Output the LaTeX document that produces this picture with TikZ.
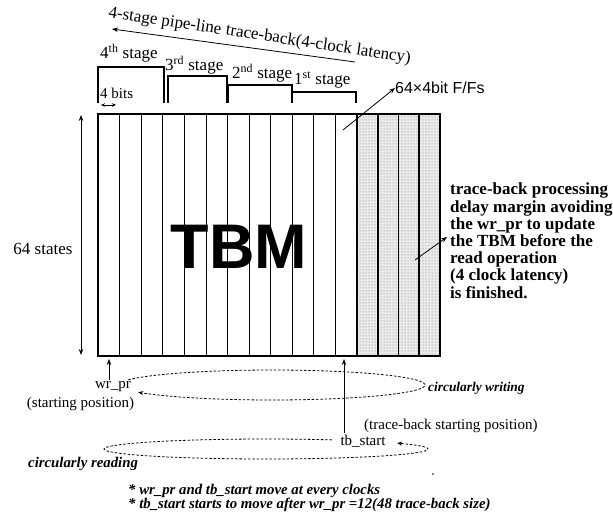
\documentclass[tikz,border=0pt]{standalone}
\usepackage{fontspec}
\setmainfont{Liberation Serif}
\newfontfamily\arialfont{Liberation Sans}
\usetikzlibrary{arrows.meta,patterns}

\begin{document}
\begin{tikzpicture}[x=1pt,y=-1pt,
  txt/.style={inner sep=0pt, font=\fontsize{17}{20}\selectfont},
  small/.style={inner sep=0pt, font=\fontsize{15}{18}\selectfont},
  note/.style={inner sep=0pt, font=\fontsize{14.8}{17}\selectfont\bfseries\itshape},
  bracket/.style={line width=1.2pt},
  thincol/.style={line width=0.8pt},
  shadecol/.style={line width=1.6pt},
  arr/.style={line width=0.8pt,-{Stealth[length=6pt,width=4.5pt]}},
  circ/.style={line width=0.8pt,dash pattern=on 2.5pt off 1.8pt},
]
\useasboundingbox (0,0) rectangle (613,516);

% ---- memory array: 12 plain columns + 4 shaded margin columns
\coordinate (tl) at (98,114);
\coordinate (br) at (440,356);
\coordinate (sh) at (357,114);
\fill[black!8] (sh) rectangle (br);
\fill[pattern=dots, pattern color=black!55] (sh) rectangle (br);
\foreach \i in {1,...,11}
  \draw[thincol] ({98+\i*21.583},114) -- ({98+\i*21.583},356);
\foreach \i in {0,...,3}
  \draw[shadecol] ({357+\i*20.75},114) -- ({357+\i*20.75},356);
\draw[line width=2.7pt] (tl) rectangle (br);

\node[inner sep=0pt, font=\arialfont\bfseries\fontsize{63}{63}\selectfont] (tbm) at (239,247) {TBM};

% ---- pipeline stage brackets
\draw[bracket] (98,103) -- (98,67) -- (164,67) -- (164,103);
\draw[bracket] (168,103) -- (168,76) -- (227,76) -- (227,103);
\draw[bracket] (228,103) -- (228,85) -- (292,85) -- (292,103);
\draw[bracket] (292,103) -- (292,92) -- (356,92) -- (356,103);
\node[txt, anchor=west] (s4) at (100,53) {4\textsuperscript{th} stage};
\node[txt, anchor=west] (s3) at (165,65) {3\textsuperscript{rd} stage};
\node[txt, anchor=west] (s2) at (232,73) {2\textsuperscript{nd} stage};
\node[txt, anchor=west] (s1) at (294,80) {1\textsuperscript{st} stage};
\node[small, anchor=west] (bits) at (100,93) {4 bits};
\coordinate (b1) at (101,105);
\coordinate (b2) at (116,105);
\draw[line width=0.8pt,{Stealth[length=4pt,width=3.5pt]}-{Stealth[length=4pt,width=3.5pt]}] (b1) -- (b2);

% ---- pipeline title (set on one slanted baseline) and its direction arrow
\begin{scope}[shift={(108,17.2)}, rotate=-8.6]
  \node[txt, transform shape, anchor=base west] (t1) at (0,0) {4-stage pipe-line};
  \node[txt, transform shape, anchor=base west] (t2) at (t1.base east) {\ trace-back(4-clock};
  \node[txt, transform shape, anchor=base west] (t3) at (t2.base east) {\ latency)};
\end{scope}
\coordinate (ta1) at (355,62);
\coordinate (ta2) at (112,29);
\draw[arr] (ta1) -- (ta2);

% ---- flip-flop label
\node[inner sep=0pt, anchor=west, font=\arialfont\fontsize{16}{18}\selectfont] (ff) at (395,88) {64×4bit F/Fs};
\coordinate (ffa) at (343,130);
\draw[arr] (ffa) -- (ff.west);

% ---- row count
\node[txt] (states) at (43,249) {64 states};
\coordinate (v1) at (81,115);
\coordinate (v2) at (81,355);
\draw[line width=0.8pt,{Stealth[length=6pt,width=4.5pt]}-{Stealth[length=6pt,width=4.5pt]}] (v1) -- (v2);

% ---- delay margin note
\node[inner sep=0pt, anchor=north west, align=left,
      font=\fontsize{17}{17.2}\selectfont\bfseries] (margin) at (450,183)
  {trace-back processing\\delay margin avoiding\\the wr\_pr to update\\the TBM before the\\read operation\\(4 clock latency)\\ is finished.};
\coordinate (ma) at (415,260);
\coordinate (mb) at (447,237);
\draw[arr] (ma) -- (mb);

% ---- write pointer
\node[small] (wr) at (113,387) {wr\_pr};
\node[small] (wrs) at (80.5,404) {(starting position)};
\coordinate (wrtip) at (109,359);
\draw[arr] (wrtip |- wr.north) ++(0,-2) -- (wrtip);
\draw[circ,-{Stealth[length=5pt,width=4pt]}]
  plot[domain=160:-151, samples=80] ({272+153*cos(\x)},{385-15*sin(\x)});
\node[note, anchor=west, font=\fontsize{13.4}{16}\selectfont\bfseries\itshape] (cw) at (428,388) {circularly writing};

% ---- trace-back start pointer
\node[small, anchor=west] (tbs) at (364,426) {(trace-back starting position)};
\node[small] (tb) at (363,441) {tb\_start};
\coordinate (tbtip) at (344,359);
\draw[arr] (tbtip |- tb.north) ++(0,-2) -- (tbtip);
\draw[circ,-{Stealth[length=5pt,width=4pt]}]
  plot[domain=66:396, samples=100] ({266+162*cos(\x)},{449-10*sin(\x)});
\node[note, anchor=west] (cr) at (28,464) {circularly reading};

\fill (433,474) circle (0.9);

% ---- footnotes
\node[note, anchor=west] (n1) at (128,491) {* wr\_pr and tb\_start move at every clocks};
\node[note, anchor=west] (n2) at (128,505) {* tb\_start starts to move after wr\_pr =12(48 trace-back size)};
\end{tikzpicture}
\end{document}
